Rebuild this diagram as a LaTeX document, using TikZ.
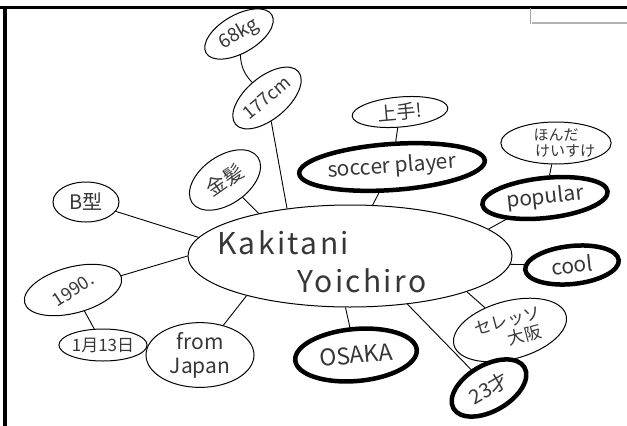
\documentclass[tikz,border=0pt]{standalone}
\usepackage{fontspec}
\setmainfont{Noto Sans CJK JP}
\usetikzlibrary{shapes.geometric}
\definecolor{ink}{RGB}{55,55,55}
\begin{document}
\begin{tikzpicture}[x=1pt,y=-1pt,
  bub/.style={ellipse,draw=black,line width=1pt,inner sep=0pt,text=ink,align=center},
  hot/.style={bub,line width=4.5pt},
  link/.style={draw=black,line width=0.9pt},
  fs/.style={font=\fontsize{#1}{#1}\selectfont},
  big/.style={text=ink,font=\fontsize{30}{30}\selectfont\addfontfeatures{LetterSpace=8}}]
\useasboundingbox[fill=white] (0,0) rectangle (627,426);
% frame
\draw[line width=3pt] (0,7.5) -- (627,7.5);
\draw[line width=4pt] (5,6) -- (5,426);
\draw[gray!60,line width=2pt] (532,23) -- (627,23);
\draw[gray!70,line width=0.6pt] (530,8) -- (530,24);
% central
\node[bub,minimum width=324,minimum height=102] (c) at (350,256) {};
\node[big] (t1) at (283,243) {Kakitani};
\node[big] (t2) at (362,281) {Yoichiro};
% satellites
\node[bub,minimum width=76,minimum height=38,rotate=30,fs=19] (kg) at (239,34) {68kg};
\node[bub,minimum width=82,minimum height=42,rotate=40,fs=18] (cm) at (267,98) {177cm};
\node[bub,minimum width=96,minimum height=30,rotate=5,fs=19] (jozu) at (400,112) {上手!};
\node[hot,minimum width=186,minimum height=46,rotate=4,fs=21] (soc) at (392,167) {soccer player};
\node[bub,minimum width=88,minimum height=42,font=\fontsize{15}{16}\selectfont] (honda) at (556,143) {ほんだ\\\hspace*{1.2em}けいすけ};
\node[hot,minimum width=126,minimum height=40,rotate=6,fs=21] (pop) at (545,198) {popular};
\node[hot,minimum width=94,minimum height=38,rotate=6,fs=21] (cool) at (572,265) {cool};
\node[bub,minimum width=66,minimum height=40,fs=20] (btype) at (86,202) {B型};
\node[bub,minimum width=100,minimum height=46,rotate=15,fs=18] (y1990) at (73,290) {\rotatebox{18}{1990.}};
\node[bub,minimum width=88,minimum height=32,fs=17] (jan) at (103,345) {1月13日};
\node[bub,minimum width=108,minimum height=64,font=\fontsize{21}{24}\selectfont] (jp) at (200,355) {from\\Japan};
\node[bub,minimum width=80,minimum height=48,rotate=35,fs=20] (kin) at (225,180) {金髪};
\node[hot,minimum width=122,minimum height=52,rotate=5,fs=23] (osaka) at (356,355) {OSAKA};
\node[hot,minimum width=82,minimum height=46,rotate=30,fs=20] (age) at (489,388) {23才};
\node[bub,minimum width=116,minimum height=58,rotate=15,font=\fontsize{17}{19}\selectfont] (cerezo) at (510,330) {セレッソ\\\hspace*{1.5em}大阪};
% connectors
\draw[link] (kg) to[bend right=20] (cm);
\draw[link] (cm) -- (c.143.6);
\draw[link] (kin) -- (c.155.8);
\draw[link] (jozu) -- (soc);
\draw[link] (soc) -- (c.66);
\draw[link] (honda) -- (pop);
\draw[link] (pop) -- (c.11);
\draw[link] (cool) -- (c.-3);
\draw[link] (cerezo) -- (c.-17);
\draw[link] (age) -- (c.-40.5);
\draw[link] (osaka) -- (c.-95);
\draw[link] (jp) -- (c.201.4);
\draw[link] (y1990) -- (c.180);
\draw[link] (btype) -- (c.173.5);
\draw[link] (y1990) -- (jan);
\end{tikzpicture}
\end{document}
